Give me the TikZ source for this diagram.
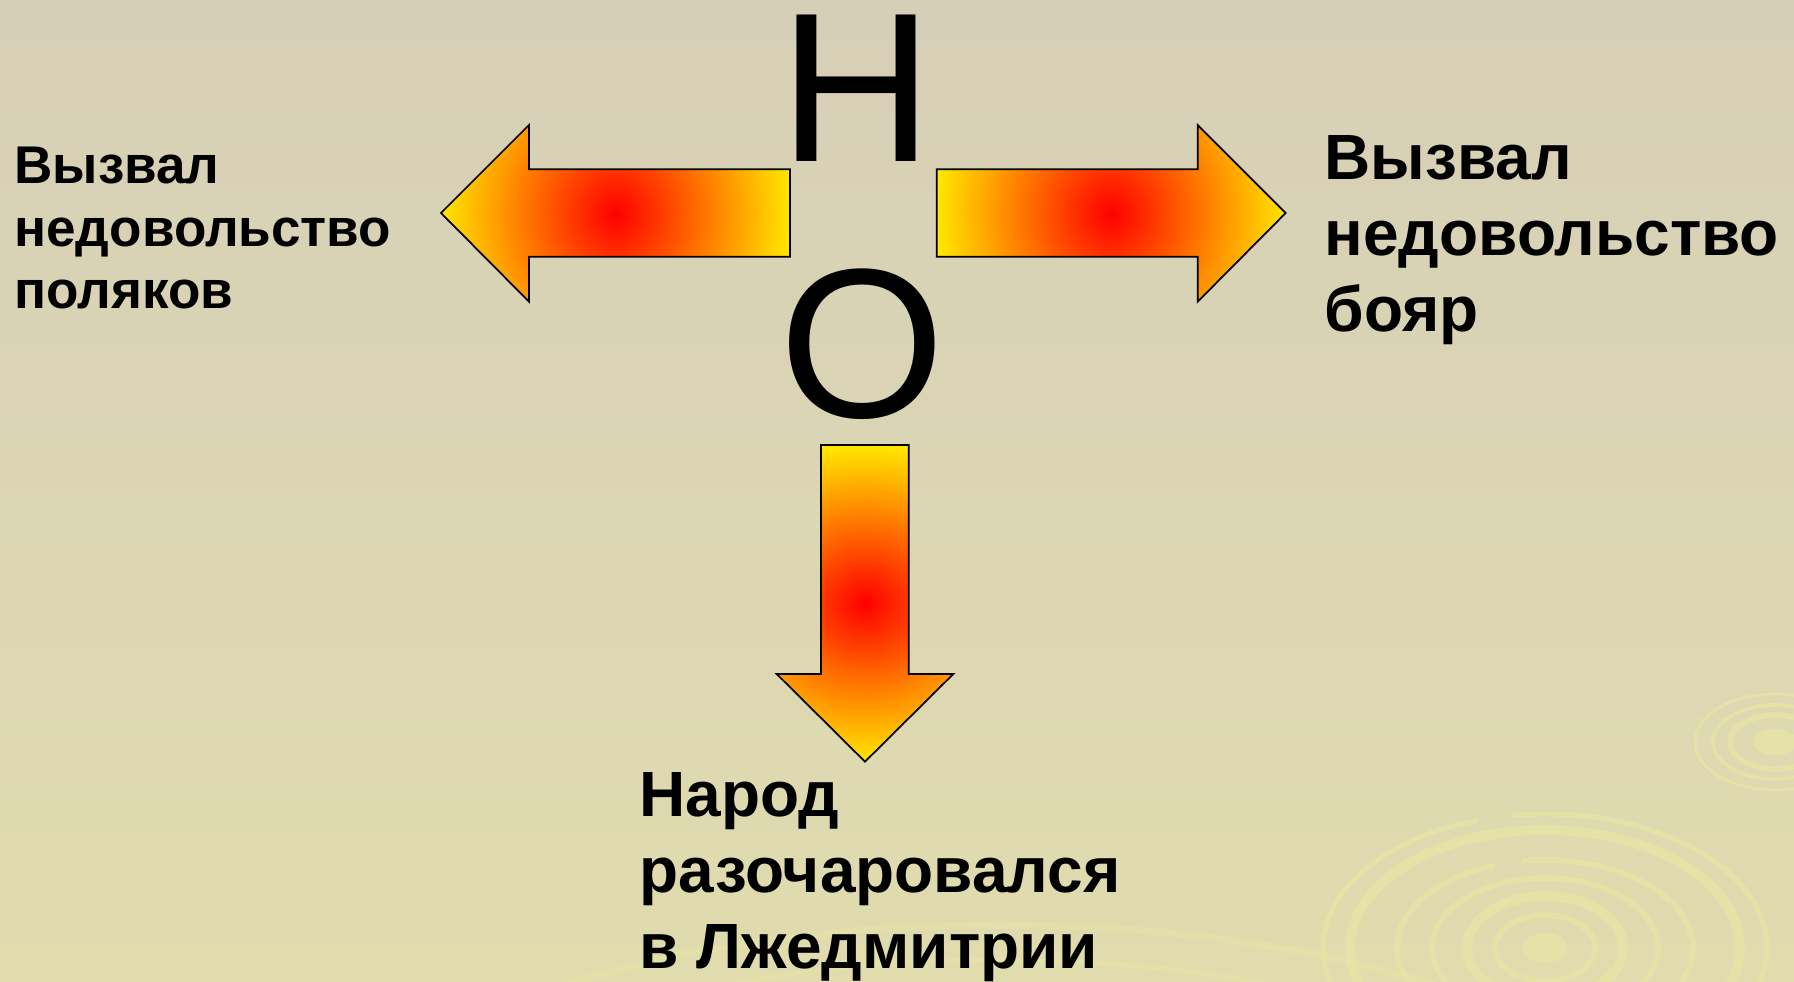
\documentclass[tikz,border=0pt]{standalone}
\usepackage{fontspec}
\setmainfont{Liberation Sans}
\definecolor{bgtop}{HTML}{D6CFB8}
\definecolor{bgbot}{HTML}{E0DCAE}
\definecolor{ripple}{HTML}{E7E4A7}
% flame fill: red centre, yellow ends
\pgfdeclarefunctionalshading{flameh}{\pgfpoint{-30bp}{-30bp}}{\pgfpoint{30bp}{30bp}}{}{
  25 div 0.45 mul dup mul exch 25 div dup mul add sqrt
  dup 1 gt {pop 1} if 0.9 mul 1 exch 0
}
\pgfdeclarefunctionalshading{flamev}{\pgfpoint{-30bp}{-30bp}}{\pgfpoint{30bp}{30bp}}{}{
  25 div dup mul exch 25 div 0.5 mul dup mul add sqrt
  dup 1 gt {pop 1} if 0.9 mul 1 exch 0
}
\begin{document}
\begin{tikzpicture}[
  flamearrow/.style={draw=black, line width=0.5pt, line join=miter},
  sidetext/.style={align=left, anchor=north west, inner sep=0pt},
  smallbold/.style={font=\bfseries\fontsize{15.1}{17.8}\selectfont},
  bigbold/.style={font=\bfseries\fontsize{18.2}{21.6}\selectfont},
  letter/.style={font=\fontsize{60.6}{60.6}\selectfont, anchor=base, inner sep=0pt},
  ring/.style={draw=ripple, opacity=0.8}]
	\useasboundingbox (0,0) rectangle (17.94,-9.82);
	\shade[top color=bgtop, bottom color=bgbot] (0,0) rectangle (17.94,-9.82);
	% background ripples
	\fill[ripple, opacity=0.8] (15.45,-9.48) ellipse [x radius=0.22, y radius=0.15];
	\draw[ring, line width=1.6pt] (15.45,-9.48) ellipse [x radius=0.50, y radius=0.33];
	\draw[ring, line width=2.8pt] (15.45,-9.48) ellipse [x radius=0.78, y radius=0.52];
	\draw[ring, line width=1.6pt] (15.45,-9.48) ellipse [x radius=1.13, y radius=0.70];
	\draw[ring, line width=1.6pt, dash pattern=on 60pt off 8pt] (15.45,-9.48) ellipse [x radius=1.48, y radius=0.88];
	\draw[ring, line width=2.8pt] (15.45,-9.48) ellipse [x radius=1.95, y radius=1.18];
	\draw[ring, line width=1.4pt, dash pattern=on 90pt off 10pt] (15.45,-9.48) ellipse [x radius=2.22, y radius=1.34];
	\fill[ripple, opacity=0.8] (17.75,-7.42) ellipse [x radius=0.22, y radius=0.13];
	\draw[ring, line width=1.6pt] (17.75,-7.42) ellipse [x radius=0.45, y radius=0.27];
	\draw[ring, line width=1.1pt] (17.75,-7.42) ellipse [x radius=0.62, y radius=0.37];
	\draw[ring, line width=0.8pt] (17.75,-7.42) ellipse [x radius=0.80, y radius=0.48];
	\draw[ring, opacity=0.5, line width=2pt] (10.0,-11.6) ellipse [x radius=6.5, y radius=2.35];
	\draw[ring, opacity=0.5, line width=1.4pt] (10.0,-11.6) ellipse [x radius=5.6, y radius=2.0];
	% letters
	\node[letter] (lettern) at (8.56,-1.617) {Н};
	\node[letter] (lettero) at (8.625,-4.18) {О};
	% arrows
	\shadedraw[flamearrow, shading=flameh] (7.90,-1.693) -- (5.29,-1.693) -- (5.29,-1.25) -- (4.41,-2.13) -- (5.29,-3.017) -- (5.29,-2.567) -- (7.90,-2.567) -- cycle;
	\shadedraw[flamearrow, shading=flameh] (9.367,-1.693) -- (11.977,-1.693) -- (11.977,-1.25) -- (12.857,-2.13) -- (11.977,-3.017) -- (11.977,-2.567) -- (9.367,-2.567) -- cycle;
	\shadedraw[flamearrow, shading=flamev] (8.21,-4.45) -- (9.087,-4.45) -- (9.087,-6.74) -- (9.533,-6.74) -- (8.65,-7.617) -- (7.767,-6.74) -- (8.21,-6.74) -- cycle;
	% texts
	\node[sidetext, smallbold] (poles) at (0.137,-1.465) {Вызвал\\недовольство\\поляков};
	\node[sidetext, bigbold] (boyars) at (13.24,-1.35) {Вызвал\\недовольство\\бояр};
	\node[sidetext, bigbold] (people) at (6.39,-7.72) {Народ\\разочаровался\\в Лжедмитрии};
\end{tikzpicture}
\end{document}
